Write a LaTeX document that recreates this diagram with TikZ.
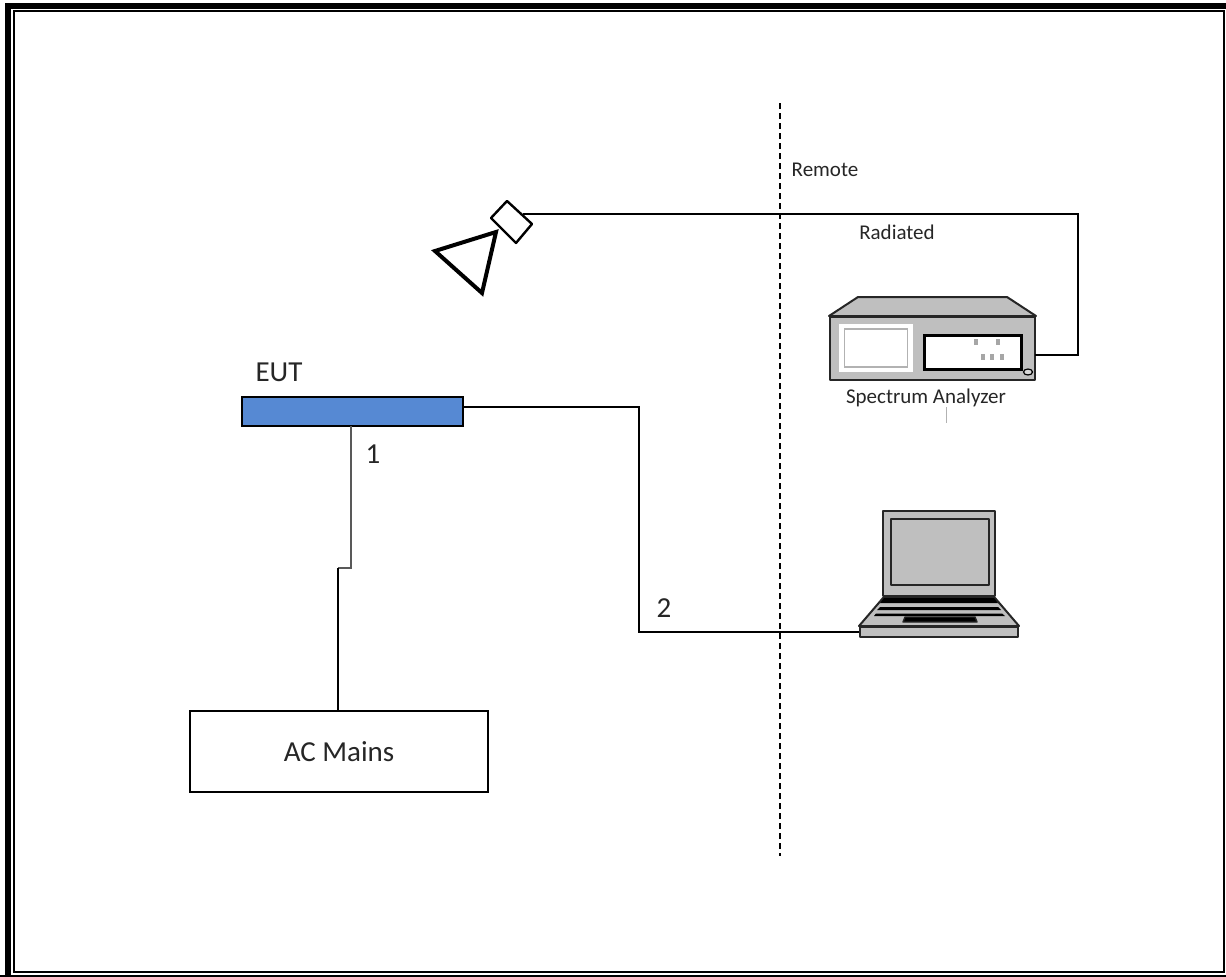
\documentclass[tikz,border=0pt]{standalone}
\usepackage{fontspec}
\setmainfont{Carlito}
\usetikzlibrary{positioning}
\usetikzlibrary{shapes.geometric}
\tikzset{
  wire/.style = {draw=black, line width=1.9pt},
  part/.style = {draw=black!85, line width=2pt, fill=black!25, line join=round},
  knob/.style = {shape=rectangle, fill=black!35, minimum width=4pt, minimum height=6pt, inner sep=0pt},
  lbl/.style = {inner sep=0pt, font=\fontsize{21}{23}\selectfont, text=black!85},
  biglbl/.style = {inner sep=0pt, font=\fontsize{29}{31}\selectfont, text=black!85}
}
\begin{document}
\begin{tikzpicture}[x=1pt, y=-1pt]
  \useasboundingbox (0,0) rectangle (1226,977);
  % page frame
  \draw [line width=6pt] (8,980) -- (8,6) -- (1230,6);
  \draw [line width=3pt] (0,976.5) -- (1230,976.5);
  \draw [line width=2.2pt] (14,972) rectangle (1224,11);

  % boxes on the left
  \node (eut) [shape=rectangle, draw, line width=1.4pt, fill={rgb,255:red,86;green,137;blue,211},
    minimum width=221pt, minimum height=29pt, inner sep=0pt] at (352.5,411.5) {};
  \node (mains) [shape=rectangle, draw, line width=1.4pt, minimum width=298pt, minimum height=81pt,
    inner sep=0pt, biglbl] at (339,751.5) {AC Mains};
  \node (eutlbl) [biglbl] at (279,372) {EUT};

  % horn antenna
  \coordinate (hornA) at (435,251);
  \coordinate (hornB) at (496,232);
  \coordinate (hornC) at (482,293);
  \draw [line width=4pt, line join=miter] (hornA) -- (hornB) -- (hornC) -- cycle;
  \coordinate (feedA) at (507,201);
  \coordinate (feedB) at (532,224);
  \coordinate (feedC) at (516,243);
  \coordinate (feedD) at (491,218);
  \draw [line width=2.4pt, line join=round] (feedA) -- (feedB) -- (feedC) -- (feedD) -- cycle;
  \coordinate (feedport) at (523,214);

  % spectrum analyzer
  \node (sa) [part, shape=rectangle, minimum width=205pt, minimum height=63pt, inner sep=0pt] at (932.5,348.5) {};
  \draw [part] (sa.north west) -- (858,297) -- (1007,297) -- (sa.north east) -- cycle;
  \node (sascreen) [shape=rectangle, fill=white, minimum width=74pt, minimum height=48pt, inner sep=0pt] at (876,348) {};
  \node (sainner) [shape=rectangle, draw=black!30, line width=1.2pt, minimum width=63pt, minimum height=38pt, inner sep=0pt] at (sascreen) {};
  \node (sapanel) [shape=rectangle, draw=black, fill=white, line width=2.8pt, minimum width=97pt, minimum height=34pt, inner sep=0pt] at (973,352.5) {};
  \node (knobA) [knob] at (976,342) {};
  \node (knobB) [knob] at (998,342) {};
  \node (knobC) [knob] at (983,357) {};
  \node (knobD) [knob] at (992,357) {};
  \node (knobE) [knob] at (1002,357) {};
  \node (saknob) [shape=ellipse, draw=black, line width=1.2pt, fill=black!15, minimum width=9pt, minimum height=6pt, inner sep=0pt] at (1028,372) {};
  \coordinate (saport) at (1035,355);
  \node (salbl) [lbl] at (926,398) {Spectrum Analyzer};
  \coordinate (tickA) at (946,407);
  \coordinate (tickB) at (946,423);
  \draw [draw=black!30, line width=1pt] (tickA) -- (tickB);

  % laptop
  \node (lid) [part, shape=rectangle, minimum width=112pt, minimum height=85pt, inner sep=0pt] at (939,553.5) {};
  \node (lcd) [part, shape=rectangle, minimum width=98pt, minimum height=66pt, inner sep=0pt] at (939.5,552) {};
  \node (lapbase) [part, shape=rectangle, minimum width=158pt, minimum height=10pt, inner sep=0pt] at (939,632) {};
  \draw [part] (lapbase.north west) -- (883,598) -- (995,598) -- (lapbase.north east) -- cycle;
  \fill (884,598) -- (994,598) -- (998,603) -- (880,603) -- cycle;
  \fill (880,607) -- (998,607) -- (1001,610) -- (877,610) -- cycle;
  \fill (876,613.5) -- (1002,613.5) -- (1005,616) -- (874,616) -- cycle;
  \draw [part, line width=1.4pt, fill=black] (905,617) -- (975,617) -- (977,622) -- (903,622) -- cycle;

  % dashed divider
  \coordinate (divtop) at (780,103);
  \coordinate (divbot) at (780,856);
  \draw [line width=1.4pt, dashed, dash pattern=on 6pt off 4pt] (divtop) -- (divbot);
  \node (remote) [lbl] at (825,170) {Remote};
  \node (radiated) [lbl] at (897,232) {Radiated};

  % wiring
  \coordinate (mainsin) at (338,711);
  \coordinate (jog) at (338,568);
  \coordinate (eutout) at (351,426);
  \coordinate (lanbend) at (639,632);
  \draw [wire] (feedport) -| (1078,355) -- (saport);
  \draw [wire] ([yshift=4.5pt]eut.east) -| (lanbend) -- (lapbase.west);
  \draw [wire, draw=black!65] (eutout) |- (jog);
  \draw [wire] (jog) -- (mainsin);
  \node (one) [biglbl] at (373,454) {1};
  \node (two) [biglbl] at (664,608) {2};
\end{tikzpicture}
\end{document}
